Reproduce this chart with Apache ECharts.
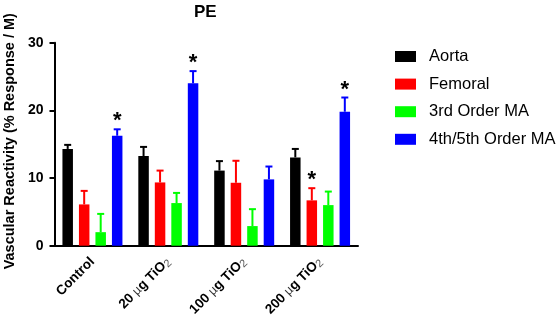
<!DOCTYPE html>
<html>
<head>
<meta charset="utf-8">
<script src="https://cdn.jsdelivr.net/npm/echarts@6/dist/echarts.min.js"></script>
<style>
  html, body { margin: 0; padding: 0; background: #fff; }
  #chart { width: 558px; height: 321px; }
</style>
</head>
<body>
<div id="chart"></div>
<script>
// groups on the x axis
var categories = ['Control', '20 µg TiO2', '100 µg TiO2', '200 µg TiO2'];
var seriesNames = ['Aorta', 'Femoral', '3rd Order MA', '4th/5th Order MA'];
var seriesColors = ['#000000', '#ff0000', '#00ff00', '#0000ff'];

// bar heights (mean) per series, one value per group
var aorta   = [14.3, 13.25, 11.1, 13.05];
var femoral = [6.1, 9.35, 9.3, 6.7];
var order3  = [2.0, 6.3, 2.9, 6.0];
var order45 = [16.25, 24.0, 9.8, 19.8];

// top of the error bar (mean + SEM)
var aortaErr   = [14.9, 14.6, 12.5, 14.3];
var femoralErr = [8.1, 11.1, 12.55, 8.5];
var order3Err  = [4.7, 7.8, 5.4, 8.0];
var order45Err = [17.2, 25.8, 11.7, 21.9];

// asterisks (1 = significant)
var aortaSig   = [0, 0, 0, 0];
var femoralSig = [0, 0, 0, 1];
var order3Sig  = [0, 0, 0, 0];
var order45Sig = [1, 1, 0, 1];

var yTicks = [0, 10, 20, 30];

var means = [aorta, femoral, order3, order45];
var errs = [aortaErr, femoralErr, order3Err, order45Err];
var sigs = [aortaSig, femoralSig, order3Sig, order45Sig];

var FONT = '"Liberation Sans", Arial, sans-serif';
var BAR_W = 10.5;
var BAR_GAP = 6;

var myChart = echarts.init(document.getElementById('chart'));

var series = [];
for (var s = 0; s < seriesNames.length; s++) {
    series.push({
        name: seriesNames[s],
        type: 'bar',
        data: means[s],
        barWidth: BAR_W,
        barGap: (BAR_GAP / BAR_W * 100) + '%',
        itemStyle: {color: seriesColors[s]},
        animation: false
    });
}

// error bars + asterisks
var errData = [];
for (var s = 0; s < seriesNames.length; s++) {
    for (var c = 0; c < categories.length; c++) {
        errData.push([c, means[s][c], errs[s][c], s, sigs[s][c]]);
    }
}
series.push({
    name: 'err',
    type: 'custom',
    data: errData,
    encode: {x: 0, y: [1, 2]},
    z: 5,
    animation: false,
    renderItem: function (params, api) {
        var c = api.value(0);
        var s = api.value(3);
        var off = (s - 1.5) * (BAR_W + BAR_GAP);
        var p0 = api.coord([c, api.value(1)]);
        var p1 = api.coord([c, api.value(2)]);
        var x = p0[0] + off;
        var col = seriesColors[s];
        var children = [
            {type: 'line', shape: {x1: x, y1: p0[1], x2: x, y2: p1[1]},
             style: {stroke: col, lineWidth: 2}},
            {type: 'line', shape: {x1: x - 3.5, y1: p1[1], x2: x + 3.5, y2: p1[1]},
             style: {stroke: col, lineWidth: 2}}
        ];
        if (api.value(4) === 1) {
            children.push({
                type: 'text',
                style: {
                    text: '*', x: x, y: p1[1] + 3,
                    textAlign: 'center', textVerticalAlign: 'bottom',
                    font: 'bold 22px ' + FONT, fill: '#000'
                }
            });
        }
        return {type: 'group', children: children};
    }
});

var option = {
    backgroundColor: '#fff',
    textStyle: {fontFamily: FONT},
    title: {
        text: 'PE',
        left: 189,
        top: -1,
        textStyle: {fontSize: 17, fontWeight: 'bold', color: '#000', fontFamily: FONT}
    },
    legend: {
        data: seriesNames,
        orient: 'vertical',
        left: 395,
        top: 48,
        padding: 0,
        icon: 'rect',
        itemWidth: 21,
        itemHeight: 11,
        itemGap: 10.6,
        textStyle: {fontSize: 16.5, color: '#000', fontFamily: FONT, padding: [0, 0, 0, 8]}
    },
    grid: {
        left: 54.5,
        right: 200,
        top: 42.7,
        bottom: 75.3,
        outerBoundsMode: 'none'
    },
    xAxis: {
        type: 'category',
        data: categories,
        axisLine: {lineStyle: {color: '#000', width: 2}},
        axisTick: {alignWithLabel: true, length: 6, lineStyle: {color: '#000', width: 2}},
        axisLabel: {
            rotate: 45,
            margin: 14,
            interval: 0,
            fontSize: 13.5,
            fontWeight: 'bold',
            color: '#000',
            fontFamily: FONT,
            formatter: function (v) {
                var m = v.match(/^(\d+) µg TiO2$/);
                if (!m) return v;
                return m[1] + ' {u|µ}g TiO{s|2}';
            },
            rich: {
                u: {fontSize: 12.5, fontWeight: 'normal', color: '#333', fontFamily: FONT},
                s: {fontSize: 11, fontWeight: 'normal', color: '#555', fontFamily: FONT,
                    verticalAlign: 'bottom', padding: [5, 0, 0, 0]}
            }
        }
    },
    yAxis: {
        type: 'value',
        min: yTicks[0],
        max: yTicks[yTicks.length - 1],
        interval: yTicks[1] - yTicks[0],
        name: 'Vascular Reactivity (% Response / M)',
        nameLocation: 'middle',
        nameRotate: 90,
        nameGap: 36,
        nameTextStyle: {fontSize: 14.5, fontWeight: 'bold', color: '#000', fontFamily: FONT,
                        padding: [0, 0, 0, 6]},
        splitLine: {show: false},
        axisLine: {show: true, lineStyle: {color: '#000', width: 2}},
        axisTick: {show: true, length: 5, lineStyle: {color: '#000', width: 2}},
        axisLabel: {fontSize: 14, fontWeight: 'bold', color: '#000', margin: 11, fontFamily: FONT}
    },
    series: series
};

myChart.setOption(option);
</script>
</body>
</html>
